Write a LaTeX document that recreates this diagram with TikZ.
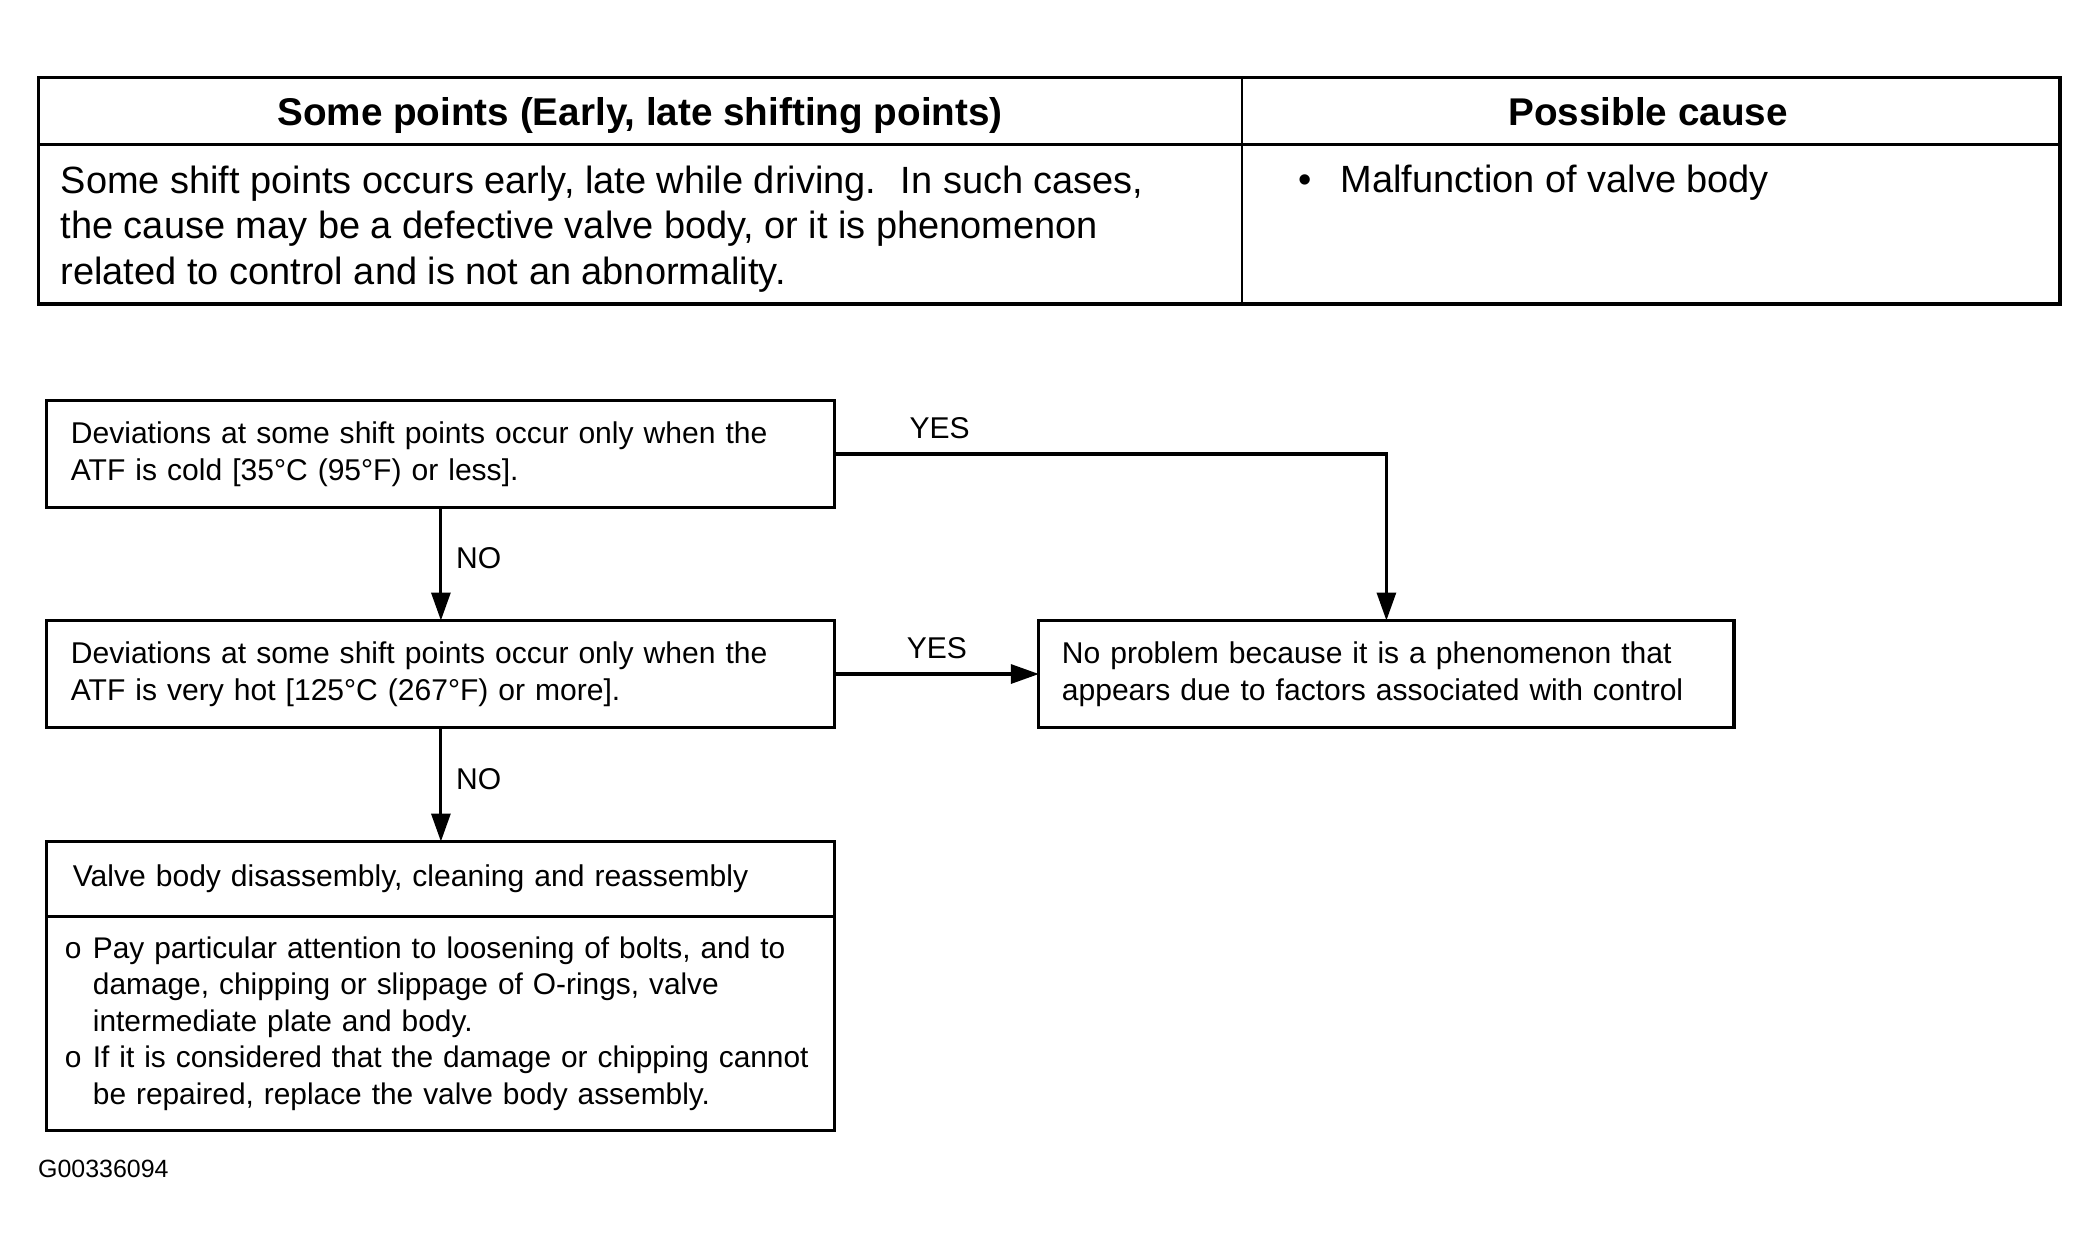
\documentclass[tikz,border=0pt]{standalone}
\usepackage{fontspec}
\setmainfont{Liberation Sans}
\usepackage{tikz}
\usetikzlibrary{arrows.meta,positioning}

\begin{document}
\begin{tikzpicture}[
  stepbox/.style={draw,line width=0.9pt,align=left,inner ysep=0pt,outer sep=0pt,font=\fontsize{8.55}{10.6}\selectfont},
  flow/.style={line width=0.9pt,-{Triangle[length=0.28cm,width=0.19cm]}},
  answer/.style={font=\fontsize{8.55}{10.6}\selectfont},
  cell/.style={inner sep=0pt,font=\fontsize{10.8}{13}\selectfont},
  frame/.style={line width=0.9pt}
]
\useasboundingbox (0,0) rectangle (20.99,-12.52);
\fill[white] (0,0) rectangle (20.99,-12.52);
\coordinate (tnw) at (0.388,-0.776);
\coordinate (tse) at (20.60,-3.04);
\draw[frame] (tnw) rectangle (tse);
\draw[frame] (0.388,-1.446) -- (20.60,-1.446);
\draw[line width=0.6pt] (12.42,-0.776) -- (12.42,-3.04);
\node[cell,anchor=base,font=\fontsize{11}{13}\selectfont\bfseries] (hdcond) at (6.40,-1.25) {Some points (Early, late shifting points)};
\node[cell,anchor=base,font=\fontsize{11}{13}\selectfont\bfseries] (hdcause) at (16.48,-1.25) {Possible cause};
\node[cell,anchor=west,align=left] (cond) at (0.60,-2.29) {Some shift points occurs early, late while driving.~ In such cases,\\the cause may be a defective valve body, or it is phenomenon\\related to control and is not an abnormality.};
\node[cell,anchor=west] (cause) at (12.98,-1.83) {\makebox[0.42cm][l]{\textbullet}Malfunction of valve body};
\node[stepbox,anchor=north west,text width=7.40cm,inner xsep=0.24cm,minimum height=1.07cm] (cold) at (0.469,-4.005) {Deviations at some shift points occur only when the\\ATF is cold [35\textdegree C (95\textdegree F) or less].};
\node[stepbox,below=1.13cm of cold,text width=7.40cm,inner xsep=0.24cm,minimum height=1.07cm] (hot) {Deviations at some shift points occur only when the\\ATF is very hot [125\textdegree C (267\textdegree F) or more].};
\node[stepbox,right=2.04cm of hot,text width=6.49cm,inner xsep=0.23cm,minimum height=1.07cm] (noprob) {No problem because it is a phenomenon that\\appears due to factors associated with control};
\node[stepbox,below=1.14cm of hot,text width=7.36cm,inner xsep=0.26cm,minimum height=0.75cm] (valve) {Valve body disassembly, cleaning and reassembly};
\node[stepbox,below=0pt of valve,text width=7.52cm,inner xsep=0.18cm,minimum height=2.14cm,font=\fontsize{8.5}{10.4}\selectfont] (check) {\makebox[0.28cm][l]{o}Pay particular attention to loosening of bolts, and to\\
\hspace*{0.28cm}damage, chipping or slippage of O-rings, valve\\
\hspace*{0.28cm}intermediate plate and body.\\
\makebox[0.28cm][l]{o}If it is considered that the damage or chipping cannot\\
\hspace*{0.28cm}be repaired, replace the valve body assembly.};
\draw[flow] (cold.east) -| node[answer,pos=0.095,above=0.5pt] {YES} (noprob.north);
\draw[flow] (cold) -- node[answer,pos=0.45,right=0.02cm] {NO} (hot);
\draw[flow] (hot) -- node[answer,above=0.5pt] {YES} (noprob);
\draw[flow] (hot) -- node[answer,pos=0.45,right=0.02cm] {NO} (valve);
\node[anchor=west,inner sep=0pt,font=\fontsize{7.1}{8.5}\selectfont] (figid) at (0.375,-11.69) {G00336094};
\end{tikzpicture}
\end{document}
